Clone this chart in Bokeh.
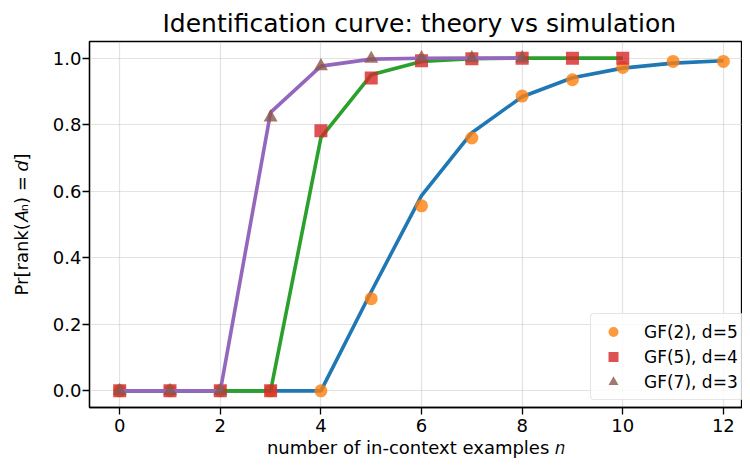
from bokeh.plotting import figure
from bokeh.embed import file_html
from bokeh.resources import INLINE
from bokeh.models import Range1d, FixedTicker, Legend, LegendItem, CustomJSTickFormatter

# ---- data ----
n_gf2 = list(range(0, 13))
theory_gf2 = [0, 0, 0, 0, 0, 0.298, 0.587, 0.776, 0.884, 0.941, 0.970, 0.985, 0.992]
sim_gf2 = [0, 0, 0, 0, 0, 0.277, 0.556, 0.760, 0.886, 0.935, 0.972, 0.990, 0.990]

n_gf5 = list(range(0, 11))
theory_gf5 = [0, 0, 0, 0, 0.761, 0.950, 0.990, 0.998, 1.0, 1.0, 1.0]
sim_gf5 = [0, 0, 0, 0, 0.782, 0.940, 0.992, 0.998, 1.0, 1.0, 1.0]

n_gf7 = list(range(0, 9))
theory_gf7 = [0, 0, 0, 0.837, 0.976, 0.997, 0.9995, 1.0, 1.0]
sim_gf7 = [0, 0, 0, 0.822, 0.976, 0.998, 1.0, 1.0, 1.0]

labels = ["GF(2), d=5", "GF(5), d=4", "GF(7), d=3"]
x_ticks = [0, 2, 4, 6, 8, 10, 12]
y_ticks = [0.0, 0.2, 0.4, 0.6, 0.8, 1.0]

FONT = "DejaVu Sans"

p = figure(width=742, height=463, output_backend="svg", toolbar_location=None,
           x_range=Range1d(-0.6, 12.38), y_range=Range1d(-0.05, 1.05),
           min_border_left=89, min_border_right=0, min_border_top=41, min_border_bottom=56)

p.title.text = "Identification curve: theory vs simulation"
p.title.text_font = FONT
p.title.text_font_size = "25px"
p.title.text_font_style = "normal"
p.title.text_color = "black"
p.title.align = "left"
p.title.offset = 73
p.title.standoff = 8

p.outline_line_color = "black"
p.outline_line_width = 1.3

for ax in (p.xaxis[0], p.yaxis[0]):
    ax.axis_line_width = 1.3
    ax.major_tick_line_width = 1.3
    ax.major_tick_out = 7
    ax.major_tick_in = 0
    ax.minor_tick_line_color = None
    ax.major_label_text_font = FONT
    ax.major_label_text_font_size = "18px"
    ax.major_label_text_color = "black"
    ax.axis_label_text_font = FONT
    ax.axis_label_text_font_size = "18px"
    ax.axis_label_text_font_style = "normal"
    ax.axis_label_text_color = "black"

p.xaxis.major_label_standoff = 4
p.xaxis.axis_label_standoff = 2
p.yaxis.major_label_standoff = 1
p.yaxis.axis_label_standoff = 18

p.xaxis.ticker = FixedTicker(ticks=x_ticks)
p.yaxis.ticker = FixedTicker(ticks=y_ticks)
p.yaxis.formatter = CustomJSTickFormatter(code="return tick.toFixed(1)")
p.xaxis.axis_label = "number of in-context examples 𝑛"
p.yaxis.axis_label = "Pr[rank(𝐴ₙ) = 𝑑]"

p.xgrid.ticker = FixedTicker(ticks=x_ticks)
p.ygrid.ticker = FixedTicker(ticks=y_ticks)
for g in (p.xgrid[0], p.ygrid[0]):
    g.grid_line_color = "#b0b0b0"
    g.grid_line_alpha = 0.35
    g.grid_line_width = 1.2

LW = 3.6
MS = 13
p.line(n_gf2, theory_gf2, line_color="#1f77b4", line_width=LW)
r1 = p.scatter(n_gf2, sim_gf2, marker="circle", size=MS, fill_color="#ff7f0e",
               line_color=None, alpha=0.8)
p.line(n_gf5, theory_gf5, line_color="#2ca02c", line_width=LW)
r2 = p.scatter(n_gf5, sim_gf5, marker="square", size=MS, fill_color="#d62728",
               line_color=None, alpha=0.8)
p.line(n_gf7, theory_gf7, line_color="#9467bd", line_width=LW)
r3 = p.scatter(n_gf7, sim_gf7, marker="triangle", size=MS + 1, fill_color="#8c564b",
               line_color=None, alpha=0.8)

legend = Legend(items=[LegendItem(label=labels[0], renderers=[r1]),
                       LegendItem(label=labels[1], renderers=[r2]),
                       LegendItem(label=labels[2], renderers=[r3])],
                location=(501, 7))
legend.label_text_font = FONT
legend.label_text_font_size = "17px"
legend.label_text_color = "black"
legend.border_line_color = "#cccccc"
legend.border_line_width = 1
legend.background_fill_alpha = 0.8
legend.border_radius = 4
legend.margin = 0
legend.padding = 5
legend.spacing = 0
legend.glyph_width = 34
legend.glyph_height = 25
legend.label_height = 25
legend.label_standoff = 14
p.add_layout(legend)

open("out.html", "w").write(file_html(p, INLINE))
